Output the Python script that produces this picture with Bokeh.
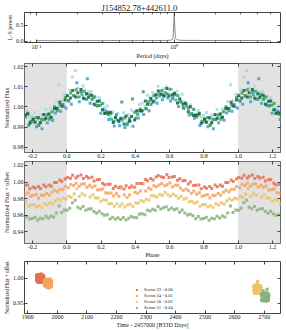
import numpy as np
from bokeh.plotting import figure
from bokeh.layouts import column
from bokeh.models import (Range1d, FixedTicker, PrintfTickFormatter, BoxAnnotation,
                          LinearAxis, LogAxis, Legend, LegendItem, Title)
from bokeh.embed import file_html
from bokeh.resources import INLINE

FONT = "Liberation Serif"
TXT = "#1a1a1a"

title_text = "J154852.78+442611.0"

# ---- Lomb-Scargle periodogram ----
ls_period = [0.1, 0.115, 0.13, 0.15, 0.17, 0.2, 0.23, 0.26, 0.3, 0.35, 0.4, 0.45, 0.5, 0.55,
             0.6, 0.65, 0.7, 0.75, 0.8, 0.85, 0.9, 0.93, 0.96, 0.98, 0.99, 1.0, 1.01, 1.02,
             1.04, 1.06, 1.08, 1.12, 1.2, 1.3, 1.5, 1.7, 2.0, 2.3, 2.7, 3.0, 3.5, 4.0, 4.5, 4.9]
ls_power = [0.012, 0.014, 0.011, 0.015, 0.013, 0.012, 0.016, 0.014, 0.013, 0.015, 0.017, 0.014,
            0.016, 0.015, 0.018, 0.016, 0.019, 0.017, 0.020, 0.018, 0.022, 0.025, 0.035, 0.09,
            0.45, 0.85, 0.40, 0.08, 0.05, 0.035, 0.030, 0.025, 0.022, 0.020, 0.021, 0.018,
            0.020, 0.017, 0.019, 0.016, 0.018, 0.015, 0.017, 0.016]

# ---- Sector 23 ----
s23_phase = [0.003, 0.021, 0.034, 0.053, 0.064, 0.083, 0.097, 0.115, 0.127, 0.146, 0.159, 0.178, 0.190, 0.208, 0.221, 0.240,
             0.253, 0.271, 0.284, 0.303, 0.315, 0.334, 0.346, 0.365, 0.378, 0.396, 0.409, 0.428, 0.440, 0.458, 0.471, 0.490,
             0.503, 0.521, 0.534, 0.553, 0.565, 0.584, 0.596, 0.615, 0.628, 0.646, 0.659, 0.678, 0.690, 0.709, 0.721, 0.740,
             0.753, 0.771, 0.784, 0.803, 0.815, 0.834, 0.846, 0.865, 0.878, 0.896, 0.909, 0.928, 0.940, 0.959, 0.971, 0.990]
s23_flux = [1.0055, 1.0045, 1.0081, 1.0050, 1.0071, 1.0086, 1.0043, 1.0066, 1.0048, 1.0058, 1.0013, 1.0028, 1.0029, 0.9986, 0.9968, 0.9972,
            0.9974, 0.9923, 0.9948, 0.9932, 0.9943, 0.9916, 0.9955, 0.9931, 0.9953, 0.9936, 0.9982, 0.9983, 0.9981, 1.0029, 1.0014, 1.0042,
            1.0025, 1.0060, 1.0079, 1.0063, 1.0054, 1.0092, 1.0054, 1.0061, 1.0068, 1.0020, 1.0041, 1.0014, 1.0019, 0.9976, 1.0001, 0.9958,
            0.9961, 0.9965, 0.9920, 0.9941, 0.9924, 0.9947, 0.9923, 0.9963, 0.9944, 0.9965, 0.9949, 0.9993, 0.9993, 1.0024, 1.0005, 1.0035]
s23_time = [1929.0, 1941.8, 1935.4, 1948.2, 1932.2, 1945.0, 1938.6, 1951.4, 1930.6, 1943.4, 1937.0, 1949.8, 1933.8, 1946.6, 1940.2, 1953.0,
            1929.8, 1942.6, 1936.2, 1949.0, 1933.0, 1945.8, 1939.4, 1952.2, 1931.4, 1944.2, 1937.8, 1950.6, 1934.6, 1947.4, 1941.0, 1953.8,
            1929.4, 1942.2, 1935.8, 1948.6, 1932.6, 1945.4, 1939.0, 1951.8, 1931.0, 1943.8, 1937.4, 1950.2, 1934.2, 1947.0, 1940.6, 1953.4,
            1930.2, 1943.0, 1936.6, 1949.4, 1933.4, 1946.2, 1939.8, 1952.6, 1931.8, 1944.6, 1938.2, 1951.0, 1935.0, 1947.8, 1941.4, 1954.2]

# ---- Sector 24 ----
s24_phase = [0.009, 0.023, 0.040, 0.054, 0.071, 0.085, 0.102, 0.116, 0.133, 0.147, 0.164, 0.179, 0.196, 0.210, 0.227, 0.241,
             0.258, 0.273, 0.289, 0.304, 0.321, 0.335, 0.352, 0.366, 0.383, 0.398, 0.414, 0.429, 0.446, 0.460, 0.477, 0.491,
             0.508, 0.523, 0.539, 0.554, 0.571, 0.585, 0.602, 0.616, 0.633, 0.648, 0.664, 0.679, 0.696, 0.710, 0.727, 0.741,
             0.758, 0.773, 0.789, 0.804, 0.821, 0.835, 0.852, 0.866, 0.883, 0.898, 0.914, 0.929, 0.946, 0.960, 0.977, 0.991]
s24_flux = [1.0032, 1.0069, 1.0057, 1.0085, 1.0050, 1.0073, 1.0078, 1.0038, 1.0061, 1.0037, 1.0051, 1.0005, 1.0008, 1.0017, 0.9970, 0.9963,
            0.9968, 0.9930, 0.9962, 0.9927, 1.0025, 0.9947, 0.9912, 0.9943, 1.0040, 0.9975, 0.9964, 0.9990, 1.0075, 0.9991, 1.0027, 1.0012,
            1.0055, 1.0044, 1.0064, 1.0082, 1.0055, 1.0066, 1.0088, 1.0041, 1.0060, 1.0057, 1.0025, 0.9998, 1.0016, 0.9994, 0.9965, 0.9987,
            0.9951, 0.9969, 0.9929, 0.9938, 0.9948, 0.9908, 0.9940, 0.9937, 0.9961, 0.9939, 0.9977, 1.0001, 0.9982, 1.0011, 1.0012, 1.0047]
s24_time = [1955.5, 1968.3, 1961.9, 1974.7, 1958.7, 1971.5, 1965.1, 1977.9, 1957.1, 1969.9, 1963.5, 1976.3, 1960.3, 1973.1, 1966.7, 1979.5,
            1956.3, 1969.1, 1962.7, 1975.5, 1959.5, 1972.3, 1965.9, 1978.7, 1957.9, 1970.7, 1964.3, 1977.1, 1961.1, 1973.9, 1967.5, 1980.3,
            1955.9, 1968.7, 1962.3, 1975.1, 1959.1, 1971.9, 1965.5, 1978.3, 1957.5, 1970.3, 1963.9, 1976.7, 1960.7, 1973.5, 1967.1, 1979.9,
            1956.7, 1969.5, 1963.1, 1975.9, 1959.9, 1972.7, 1966.3, 1979.1, 1958.3, 1971.1, 1964.7, 1977.5, 1961.5, 1974.3, 1967.9, 1980.7]

# ---- Sector 50 ----
s50_phase = [0.012, 0.026, 0.043, 0.058, 0.073, 0.089, 0.105, 0.120, 0.136, 0.152, 0.167, 0.183, 0.198, 0.214, 0.230, 0.245,
             0.261, 0.277, 0.292, 0.308, 0.323, 0.339, 0.355, 0.370, 0.386, 0.402, 0.417, 0.433, 0.448, 0.464, 0.480, 0.495,
             0.511, 0.527, 0.542, 0.558, 0.573, 0.589, 0.605, 0.620, 0.636, 0.652, 0.667, 0.683, 0.698, 0.714, 0.730, 0.745,
             0.761, 0.777, 0.792, 0.808, 0.823, 0.839, 0.855, 0.870, 0.886, 0.902, 0.917, 0.933, 0.948, 0.964, 0.980, 0.995]
s50_flux = [1.0028, 1.0014, 1.0054, 1.0120, 1.0026, 1.0059, 1.0039, 1.0140, 1.0019, 1.0046, 1.0008, 1.0007, 0.9969, 0.9985, 0.9980, 0.9938,
            0.9940, 0.9906, 0.9936, 0.9907, 0.9934, 0.9898, 0.9921, 0.9930, 0.9905, 0.9946, 0.9946, 0.9978, 0.9963, 0.9991, 0.9982, 1.0033,
            1.0030, 1.0018, 1.0053, 1.0036, 1.0072, 1.0045, 1.0029, 1.0051, 1.0034, 1.0003, 1.0027, 0.9992, 1.0005, 0.9961, 0.9968, 0.9944,
            0.9959, 0.9908, 0.9925, 0.9929, 0.9902, 0.9913, 0.9893, 0.9938, 0.9922, 0.9949, 0.9934, 0.9970, 0.9994, 0.9979, 1.0003, 0.9995]
s50_time = [2664.5, 2677.3, 2670.9, 2678.1, 2667.7, 2680.5, 2674.1, 2677.5, 2666.1, 2678.9, 2672.5, 2685.3, 2669.3, 2682.1, 2675.7, 2688.5,
            2665.3, 2678.1, 2671.7, 2684.5, 2668.5, 2681.3, 2674.9, 2687.7, 2666.9, 2679.7, 2673.3, 2686.1, 2670.1, 2682.9, 2676.5, 2689.3,
            2664.9, 2677.7, 2671.3, 2684.1, 2668.1, 2680.9, 2674.5, 2687.3, 2666.5, 2679.3, 2672.9, 2685.7, 2669.7, 2682.5, 2676.1, 2688.9,
            2665.7, 2678.5, 2672.1, 2684.9, 2668.9, 2681.7, 2675.3, 2688.1, 2667.3, 2680.1, 2673.7, 2686.5, 2670.5, 2683.3, 2676.9, 2689.7]

# ---- Sector 51 ----
s51_phase = [0.002, 0.017, 0.033, 0.049, 0.064, 0.080, 0.095, 0.111, 0.127, 0.142, 0.158, 0.174, 0.189, 0.205, 0.220, 0.236,
             0.252, 0.267, 0.283, 0.298, 0.314, 0.330, 0.345, 0.361, 0.377, 0.392, 0.408, 0.423, 0.439, 0.455, 0.470, 0.486,
             0.502, 0.517, 0.533, 0.548, 0.564, 0.580, 0.595, 0.611, 0.627, 0.642, 0.658, 0.673, 0.689, 0.705, 0.720, 0.736,
             0.752, 0.767, 0.783, 0.798, 0.814, 0.830, 0.845, 0.861, 0.877, 0.892, 0.908, 0.923, 0.939, 0.955, 0.970, 0.986]
s51_flux = [1.0059, 1.0083, 1.0148, 1.0180, 1.0094, 1.0076, 1.0104, 1.0060, 1.0075, 1.0077, 1.0043, 1.0023, 1.0047, 1.0018, 0.9998, 1.0005,
            0.9954, 0.9975, 0.9949, 0.9968, 0.9947, 0.9972, 0.9941, 0.9962, 0.9984, 0.9970, 0.9969, 1.0012, 1.0018, 1.0005, 1.0058, 1.0049,
            1.0072, 1.0058, 1.0103, 1.0075, 1.0089, 1.0100, 1.0064, 1.0087, 1.0066, 1.0078, 1.0034, 1.0063, 1.0025, 1.0000, 1.0010, 0.9993,
            0.9957, 0.9983, 0.9952, 0.9958, 0.9973, 0.9937, 0.9961, 0.9956, 0.9987, 0.9965, 0.9990, 0.9978, 1.0027, 1.0110, 1.0031, 1.0063]
s51_time = [2690.8, 2703.6, 2697.2, 2710.0, 2694.0, 2706.8, 2700.4, 2713.2, 2692.4, 2705.2, 2698.8, 2711.6, 2695.6, 2708.4, 2702.0, 2714.8,
            2691.6, 2704.4, 2698.0, 2710.8, 2694.8, 2707.6, 2701.2, 2714.0, 2693.2, 2706.0, 2699.6, 2712.4, 2696.4, 2709.2, 2702.8, 2715.6,
            2691.2, 2704.0, 2697.6, 2710.4, 2694.4, 2707.2, 2700.8, 2713.6, 2692.8, 2705.6, 2699.2, 2712.0, 2696.0, 2708.8, 2702.4, 2715.2,
            2692.0, 2704.8, 2698.4, 2711.2, 2695.2, 2708.0, 2701.6, 2714.4, 2693.6, 2706.4, 2700.0, 2712.8, 2696.8, 2709.6, 2703.2, 2716.0]

sector_names = ["Sector 23", "Sector 24", "Sector 50", "Sector 51"]
sector_offsets = [0.00, 0.01, 0.02, 0.04]
fold_colors = ["#13613f", "#3aa24c", "#3c9fd2", "#a5d8ec"]
sector_colors = ["#e76f51", "#f4a261", "#e9c46a", "#8ab17d"]

phases = [s23_phase, s24_phase, s50_phase, s51_phase]
fluxes = [s23_flux, s24_flux, s50_flux, s51_flux]
times = [s23_time, s24_time, s50_time, s51_time]

period_ticks = [0.1, 1.0]
period_minor = [0.09, 0.2, 0.3, 0.4, 0.5, 0.6, 0.7, 0.8, 0.9, 2, 3, 4, 5]
power_ticks = [0.0, 0.5]
phase_ticks = [-0.2, 0.0, 0.2, 0.4, 0.6, 0.8, 1.0, 1.2]
flux_ticks = [0.98, 0.99, 1.00, 1.01, 1.02]
offset_flux_ticks = [0.94, 0.96, 0.98, 1.00, 1.02]
time_flux_ticks = [0.95, 1.00]
time_ticks = [1900, 2000, 2100, 2200, 2300, 2400, 2500, 2600, 2700]

W = 282
MS = 3.0


def extend_phase(ph, fl):
    ph = np.asarray(ph)
    fl = np.asarray(fl)
    lo = ph > 0.75
    hi = ph < 0.25
    return (np.concatenate([ph, ph[lo] - 1.0, ph[hi] + 1.0]),
            np.concatenate([fl, fl[lo], fl[hi]]))


def make_fig(height, top, bottom, xr, yr, x_axis_type="linear"):
    p = figure(width=W, height=height, x_range=xr, y_range=yr, x_axis_type=x_axis_type,
               output_backend="svg", toolbar_location=None, title=None,
               min_border_left=20, min_border_right=2, min_border_top=top,
               min_border_bottom=bottom)
    p.outline_line_color = "#444444"
    p.outline_line_width = 1
    p.xgrid.visible = False
    p.ygrid.visible = False
    p.background_fill_color = "white"
    p.border_fill_color = "white"
    return p


def style_axis(ax, ticker, fmt=None, label=None, hide=False, overrides=None, label_size="6px"):
    ax.ticker = ticker
    if fmt is not None:
        ax.formatter = fmt
    if overrides:
        ax.major_label_overrides = overrides
    ax.axis_line_color = None
    ax.major_tick_in = 3
    ax.major_tick_out = 0
    ax.minor_tick_in = 2
    ax.minor_tick_out = 0
    ax.major_tick_line_color = TXT
    ax.minor_tick_line_color = TXT
    ax.major_tick_line_width = 0.8
    ax.minor_tick_line_width = 0.6
    ax.major_label_text_font = FONT
    ax.major_label_text_color = TXT
    ax.major_label_text_font_size = "6px"
    ax.major_label_standoff = 1
    if label:
        ax.axis_label = label
        ax.axis_label_text_font = FONT
        ax.axis_label_text_font_style = "normal"
        ax.axis_label_text_font_size = label_size
        ax.axis_label_text_color = TXT
        ax.axis_label_standoff = 0
    if hide:
        ax.major_label_text_font_size = "1px"
        ax.major_label_text_alpha = 0.0
        ax.major_label_standoff = 0


def mirror(p, xticker, yticker, log=False):
    top = LogAxis() if log else LinearAxis()
    style_axis(top, xticker, hide=True)
    p.add_layout(top, "above")
    right = LinearAxis()
    style_axis(right, yticker, hide=True)
    p.add_layout(right, "right")


# ---------------- Panel 1: periodogram ----------------
f1 = make_fig(61, 9, 16, Range1d(0.082, 5.9), Range1d(-0.044, 0.89), x_axis_type="log")
f1.line(ls_period, ls_power, line_color="#7a7a7a", line_width=0.9)
xt1 = FixedTicker(ticks=period_ticks, minor_ticks=period_minor)
yt1 = FixedTicker(ticks=power_ticks)
style_axis(f1.xaxis[0], xt1, label="Period (days)", overrides={0.1: "10⁻¹", 1.0: "10⁰"})
style_axis(f1.yaxis[0], yt1, PrintfTickFormatter(format="%.1f"), label="L-S power")
mirror(f1, FixedTicker(ticks=period_ticks, minor_ticks=period_minor), FixedTicker(ticks=power_ticks), log=True)
f1.add_layout(Title(text=title_text, text_font=FONT, text_font_size="8.5px",
                    text_font_style="normal", text_color=TXT, align="left", offset=77,
                    standoff=0), "above")

# ---------------- Panel 2: phase-folded ----------------
f2 = make_fig(99, 2, 8, Range1d(-0.247, 1.247), Range1d(0.9775, 1.0215))
for side in (dict(right=0.0), dict(left=1.0)):
    f2.add_layout(BoxAnnotation(fill_color="#e2e2e2", fill_alpha=1.0, line_color=None,
                                level="underlay", **side))
for i in [3, 2, 1, 0]:
    x, y = extend_phase(phases[i], fluxes[i])
    f2.scatter(x, y, marker="square", size=MS, fill_color=fold_colors[i], line_color=None,
               fill_alpha=0.85)
style_axis(f2.xaxis[0], FixedTicker(ticks=phase_ticks), PrintfTickFormatter(format="%.1f"))
style_axis(f2.yaxis[0], FixedTicker(ticks=flux_ticks), PrintfTickFormatter(format="%.2f"),
           label="Normalized Flux")
mirror(f2, FixedTicker(ticks=phase_ticks), FixedTicker(ticks=flux_ticks))

# ---------------- Panel 3: phase-folded with offsets ----------------
f3 = make_fig(100, 1, 17, Range1d(-0.247, 1.247), Range1d(0.9257, 1.0248))
for side in (dict(right=0.0), dict(left=1.0)):
    f3.add_layout(BoxAnnotation(fill_color="#e2e2e2", fill_alpha=1.0, line_color=None,
                                level="underlay", **side))
for i in range(4):
    x, y = extend_phase(phases[i], fluxes[i])
    f3.scatter(x, y - sector_offsets[i], marker="square", size=MS,
               fill_color=sector_colors[i], line_color=None, fill_alpha=0.85)
style_axis(f3.xaxis[0], FixedTicker(ticks=phase_ticks), PrintfTickFormatter(format="%.1f"),
           label="Phase")
style_axis(f3.yaxis[0], FixedTicker(ticks=offset_flux_ticks), PrintfTickFormatter(format="%.2f"),
           label="Normalized Flux + offset")
mirror(f3, FixedTicker(ticks=phase_ticks), FixedTicker(ticks=offset_flux_ticks))

# ---------------- Panel 4: time series ----------------
f4 = make_fig(70, 1, 17, Range1d(1888.6, 2755.4), Range1d(0.9286, 1.0346))
items = []
for i in range(4):
    r = f4.scatter(times[i], np.asarray(fluxes[i]) - sector_offsets[i], marker="square",
                   size=MS, fill_color=sector_colors[i], line_color=None, fill_alpha=0.95)
    items.append(LegendItem(label="%s - %.2f" % (sector_names[i], sector_offsets[i]),
                            renderers=[r]))
style_axis(f4.xaxis[0], FixedTicker(ticks=time_ticks), PrintfTickFormatter(format="%d"),
           label="Time - 2457000 [BTJD Days]")
style_axis(f4.yaxis[0], FixedTicker(ticks=time_flux_ticks), PrintfTickFormatter(format="%.2f"),
           label="Normalized Flux + offset", label_size="5.2px")
mirror(f4, FixedTicker(ticks=time_ticks), FixedTicker(ticks=time_flux_ticks))
legend = Legend(items=items, location=(110, 3), background_fill_alpha=0.0,
                border_line_alpha=0.0, label_text_font=FONT, label_text_font_size="4.5px",
                label_text_color=TXT, glyph_width=5, glyph_height=5, label_height=5,
                label_standoff=5, spacing=1, padding=0, margin=0)
f4.add_layout(legend)

layout = column(f1, f2, f3, f4, spacing=0)

open("out.html", "w").write(file_html(layout, INLINE))
